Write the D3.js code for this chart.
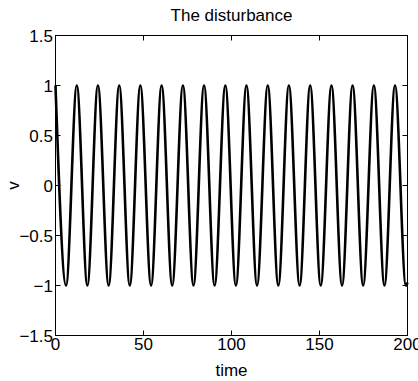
<html>
  <meta charset="utf-8" />
  <script src="https://d3js.org/d3.v7.min.js"></script>
  <body style="margin: 0; background: white">
    <svg width="418" height="381" id="svg_chart"></svg>

    <script>
      // times where the signal peaks (+1) and dips (-1)
      const peakTimes = [
        0, 12.1, 24.1, 36.2, 48.2, 60.3, 72.4, 84.4, 96.5, 108.5, 120.6,
        132.6, 144.7, 156.8, 168.8, 180.9, 192.9,
      ];
      const troughTimes = [
        6.0, 18.1, 30.2, 42.2, 54.3, 66.3, 78.4, 90.4, 102.5, 114.5, 126.6,
        138.7, 150.7, 162.8, 174.8, 186.9, 199.1,
      ];
      const peakValue = 1;
      const troughValue = -1;
      const endPoint = { t: 200, v: -0.97 };

      const xTicks = [0, 50, 100, 150, 200];
      const yTicks = [-1.5, -1, -0.5, 0, 0.5, 1, 1.5];

      const font = "'Liberation Sans Narrow', 'Liberation Sans', Arial, sans-serif";

      const svg = d3.select("#svg_chart");
      const plotLeft = 55.5;
      const plotRight = 407.5;
      const plotTop = 35.5;
      const plotBottom = 335.5;

      const x = d3.scaleLinear().domain([0, 200]).range([plotLeft, plotRight]);
      const y = d3.scaleLinear().domain([-1.5, 1.5]).range([plotBottom, plotTop]);

      const points = peakTimes
        .map((t) => ({ t: t, v: peakValue }))
        .concat(troughTimes.map((t) => ({ t: t, v: troughValue })))
        .concat([endPoint])
        .sort((a, b) => a.t - b.t);

      const line = d3
        .line()
        .x((d) => x(d.t))
        .y((d) => y(d.v))
        .curve(d3.curveMonotoneX);

      svg
        .append("path")
        .datum(points)
        .attr("d", line)
        .attr("fill", "none")
        .attr("stroke", "black")
        .attr("stroke-width", 2.6);

      // box
      svg
        .append("rect")
        .attr("x", plotLeft)
        .attr("y", plotTop)
        .attr("width", plotRight - plotLeft)
        .attr("height", plotBottom - plotTop)
        .attr("fill", "none")
        .attr("stroke", "black")
        .attr("stroke-width", 1);

      const tickLen = 5;

      // x ticks, bottom and top, pointing inwards
      xTicks.forEach((t) => {
        svg
          .append("line")
          .attr("x1", x(t))
          .attr("x2", x(t))
          .attr("y1", plotBottom)
          .attr("y2", plotBottom - tickLen)
          .attr("stroke", "black");
        svg
          .append("line")
          .attr("x1", x(t))
          .attr("x2", x(t))
          .attr("y1", plotTop)
          .attr("y2", plotTop + tickLen)
          .attr("stroke", "black");
        svg
          .append("text")
          .attr("x", x(t))
          .attr("y", 350)
          .attr("text-anchor", "middle")
          .attr("font-family", font)
          .attr("font-size", 17)
          .text(t);
      });

      // y ticks, left and right
      yTicks.forEach((v) => {
        svg
          .append("line")
          .attr("x1", plotLeft)
          .attr("x2", plotLeft + tickLen)
          .attr("y1", y(v))
          .attr("y2", y(v))
          .attr("stroke", "black");
        svg
          .append("line")
          .attr("x1", plotRight)
          .attr("x2", plotRight - tickLen)
          .attr("y1", y(v))
          .attr("y2", y(v))
          .attr("stroke", "black");
        svg
          .append("text")
          .attr("x", plotLeft - 2.5)
          .attr("y", y(v))
          .attr("dy", "0.36em")
          .attr("text-anchor", "end")
          .attr("font-family", font)
          .attr("font-size", 17)
          .text(String(v).replace("-", "\u2212"));
      });

      svg
        .append("text")
        .attr("x", (plotLeft + plotRight) / 2)
        .attr("y", 21)
        .attr("text-anchor", "middle")
        .attr("font-family", font)
        .attr("font-size", 17)
        .text("The disturbance");

      svg
        .append("text")
        .attr("x", (plotLeft + plotRight) / 2)
        .attr("y", 376)
        .attr("text-anchor", "middle")
        .attr("font-family", font)
        .attr("font-size", 17)
        .text("time");

      svg
        .append("text")
        .attr("transform", `translate(19, ${y(0)}) rotate(-90)`)
        .attr("text-anchor", "middle")
        .attr("font-family", font)
        .attr("font-size", 17)
        .text("v");
    </script>
  </body>
</html>
